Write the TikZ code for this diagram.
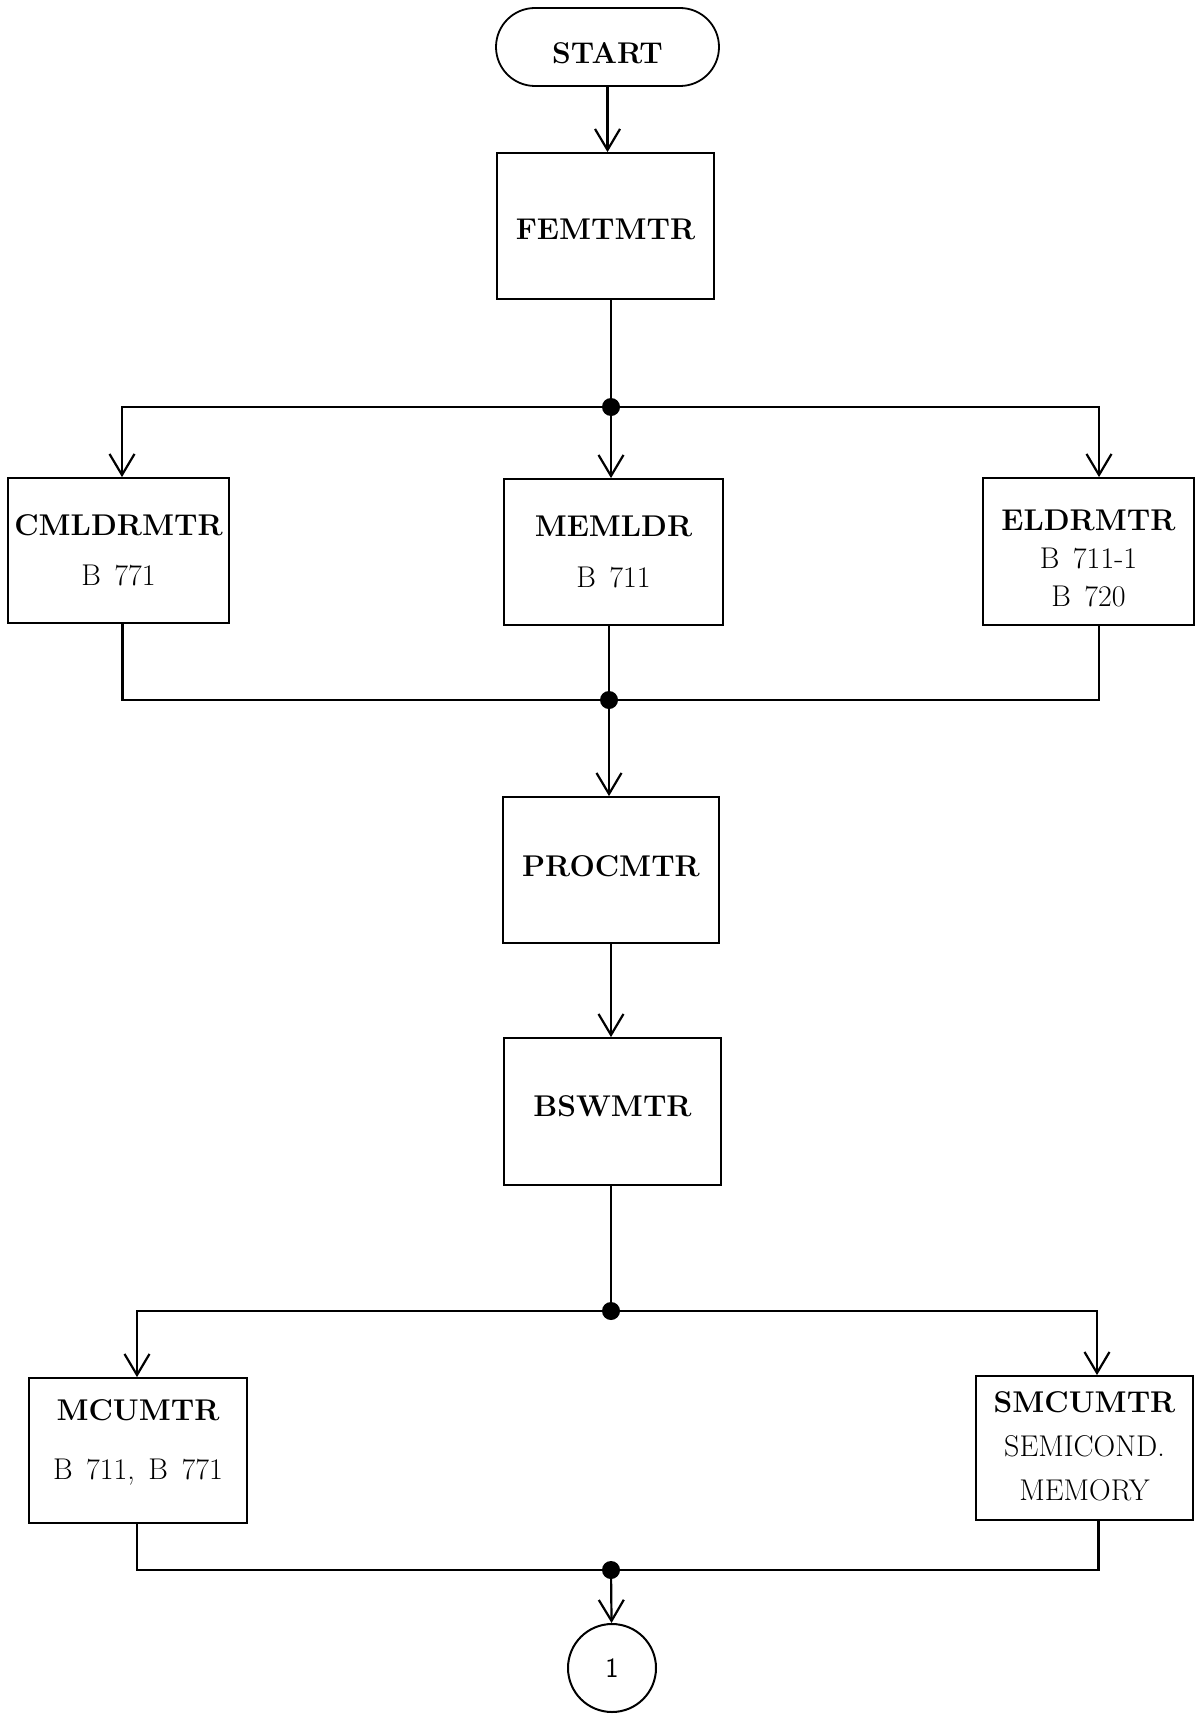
\documentclass[tikz,border=0pt]{standalone}
\usepackage{fontspec}
\usetikzlibrary{arrows.meta}
\newcommand{\boldlab}[1]{{\bfseries #1}}
\newcommand{\gap}{\hspace{0.45em}}
\newcommand{\heavier}{\addfontfeatures{FakeBold=0.7}}
\begin{document}
\begin{tikzpicture}[x=1pt,y=-1pt,
  box/.style={draw, line width=1.8pt, inner sep=0pt, align=center, font=\fontsize{30}{52}\selectfont\heavier},
  term/.style={draw, line width=1.8pt, rounded corners=39pt, inner sep=0pt, font=\fontsize{30}{36}\selectfont},
  conn/.style={line width=2.2pt},
  arr/.style={line width=2.2pt, -{Straight Barb[length=21pt,width=25pt]}}]
\useasboundingbox (0,0) rectangle (1196,1715);
\node[term, minimum width=223pt, minimum height=78pt, text height=34pt] (start) at (607.5,47) {\boldlab{START}};
\node[box, minimum width=217pt, minimum height=146pt, text height=28pt] (fem) at (605.5,226) {\boldlab{FEMTMTR}};
\coordinate (j1) at (611,407);
\node[box, minimum width=221pt, minimum height=145pt, font=\fontsize{30}{50}\selectfont\heavier] (cml) at (118.5,550.5) {\boldlab{CMLDRMTR}\\B\gap771};
\node[box, minimum width=219pt, minimum height=146pt, font=\fontsize{30}{51}\selectfont\heavier] (mem) at (613.5,552) {\boldlab{MEMLDR}\\B\gap711};
\node[box, minimum width=211pt, minimum height=147pt, font=\fontsize{30}{38}\selectfont\heavier, text height=110pt] (eld) at (1088.5,551.5) {\boldlab{ELDRMTR}\\B\gap711-1\\B\gap720};
\coordinate (j2) at (609,700);
\node[box, minimum width=216pt, minimum height=146pt, text height=14pt] (proc) at (611,870) {\boldlab{PROCMTR}};
\node[box, minimum width=217pt, minimum height=147pt, text height=10pt] (bsw) at (612.5,1111.5) {\boldlab{BSWMTR}};
\coordinate (j3) at (611,1311);
\node[box, minimum width=218pt, minimum height=145pt, font=\fontsize{30}{59}\selectfont\heavier, text height=64.5pt] (mcu) at (138,1450.5) {\boldlab{MCUMTR}\\B\gap711,\gap B\gap771};
\node[box, minimum width=217pt, minimum height=144pt, font=\fontsize{30}{44}\selectfont\heavier, text height=105.5pt] (smc) at (1084.5,1448) {\boldlab{SMCUMTR}\\SEMICOND.\\MEMORY};
\coordinate (j4) at (611,1570);
\node[circle, draw, line width=2pt, minimum size=88pt, inner sep=0pt, font=\sffamily\fontsize{28}{32}\selectfont\heavier] (c1) at (612,1668) {1};
% connectors
\draw[arr] (start) -- (start |- fem.north);
\draw[conn] (fem.south -| j1) -- (j1);
\draw[arr] (j1) -| ([xshift=3.5pt]cml.north);
\draw[arr] (j1) -- (j1 |- mem.north);
\draw[arr] (j1) -| ([xshift=10.5pt]eld.north);
\draw[conn] ([xshift=4pt]cml.south) |- (j2);
\draw[conn] (mem.south -| j2) -- (j2);
\draw[conn] ([xshift=10.5pt]eld.south) |- (j2);
\draw[arr] (j2) -- (j2 |- proc.north);
\draw[arr] (proc) -- (proc |- bsw.north);
\draw[conn] (bsw.south -| j3) -- (j3);
\draw[arr] (j3) -| ([xshift=-1pt]mcu.north);
\draw[arr] (j3) -| ([xshift=12.5pt]smc.north);
\draw[conn] ([xshift=-1pt]mcu.south) |- (j4);
\draw[conn] ([xshift=14pt]smc.south) |- (j4);
\draw[arr] (j4) -- (c1);
\foreach \j in {j1,j2,j3,j4} \fill (\j) circle[radius=9pt];
\end{tikzpicture}
\end{document}
